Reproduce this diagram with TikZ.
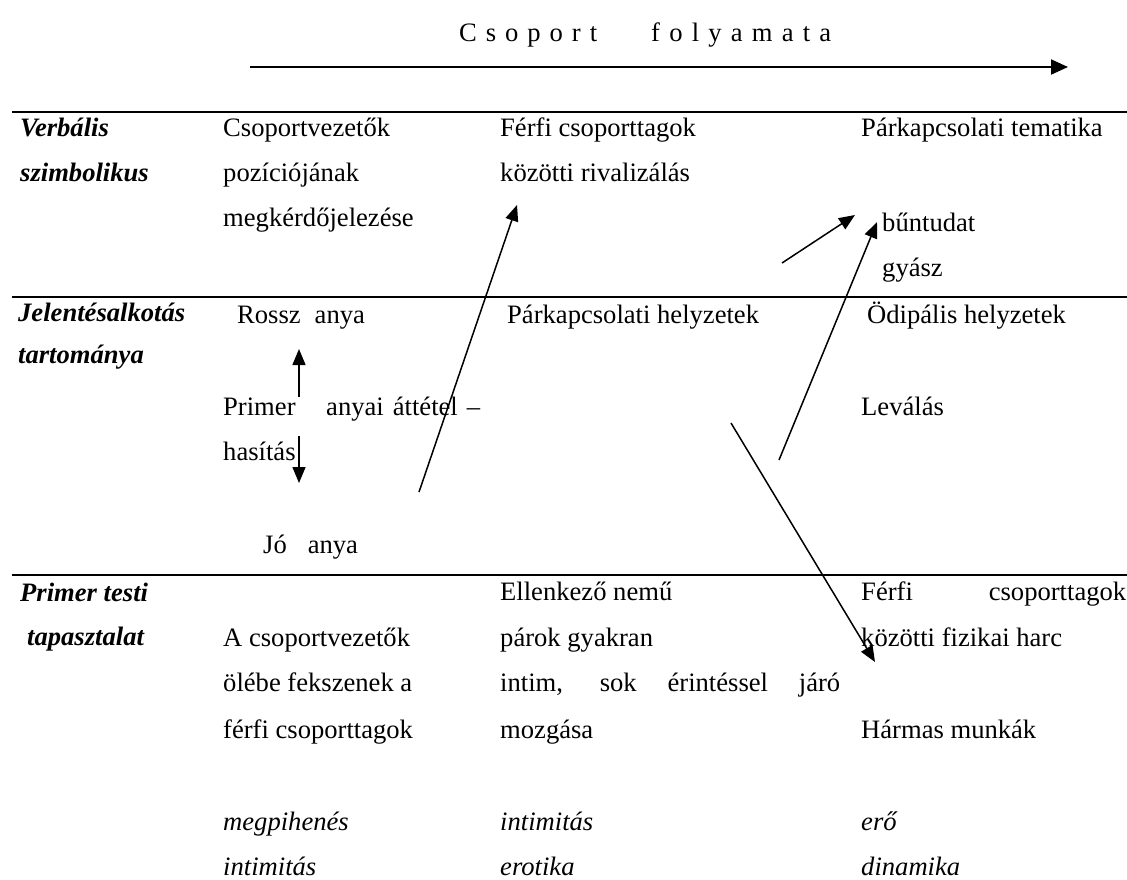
\documentclass[tikz,border=0pt]{standalone}
\usepackage{fontspec}
\setmainfont{Liberation Serif}
\newfontfamily\timesfont{Liberation Serif}
\usetikzlibrary{arrows.meta}

\tikzset{
  txt/.style={anchor=west, inner sep=0pt, text height=16pt, text depth=0pt, font=\timesfont\fontsize{26.6}{32}\selectfont},
  lbl/.style={txt, font=\timesfont\fontsize{26.6}{32}\selectfont\bfseries\itshape},
  kw/.style={txt, font=\timesfont\fontsize{26.6}{32}\selectfont\itshape},
  rule/.style={line width=2.3pt},
  link/.style={line width=1.5pt, -{Triangle[length=16pt,width=13pt]}}
}

\begin{document}
\begin{tikzpicture}[x=1pt,y=-1pt]

\useasboundingbox (0,0) rectangle (1127,879);

% Draw the title and the time arrow
\node[txt] (T1) at (459,33) {\makebox[138pt][s]{C s o p o r t}};
\node[txt] (T2) at (651,33) {\makebox[180pt][s]{f o l y a m a t a}};
\coordinate (time0) at (250,67);
\coordinate (time1) at (1068,67);
\draw[line width=2pt, -{Triangle[length=17pt,width=15pt]}] (time0) -- (time1);

% Draw the rules between the rows
\draw[rule] (12,112) -- (1127,112);
\draw[rule] (12,297) -- (1127,297);
\draw[rule] (12,575) -- (1127,575);

% Row 1
\node[lbl] (V1) at (20,128) {Verbális};
\node[lbl] (V2) at (20,173) {szimbolikus};
\node[txt] (A1) at (223,128) {Csoportvezetők};
\node[txt] (A2) at (223,173) {pozíciójának};
\node[txt] (A3) at (223,218) {megkérdőjelezése};
\node[txt] (B1) at (500,128) {Férfi csoporttagok};
\node[txt] (B2) at (500,173) {közötti rivalizálás};
\node[txt] (C1) at (861,128) {Párkapcsolati tematika};
\node[txt] (C2) at (882,223) {bűntudat};
\node[txt] (C3) at (882,268) {gyász};

% Row 2
\node[lbl] (J1) at (18,313) {Jelentésalkotás};
\node[lbl] (J2) at (18,355) {tartománya};
\node[txt] (D1) at (237,315) {Rossz\hspace{14pt}anya};
\node[txt] (D2) at (223,407) {Primer};
\node[txt] (D3) at (326,407) {\makebox[154pt][s]{anyai áttétel –}};
\node[txt] (D4) at (223,452) {hasítás};
\node[txt] (D5) at (263,545) {Jó\hspace{21pt}anya};
\node[txt] (E1) at (507,315) {Párkapcsolati helyzetek};
\node[txt] (F1) at (867,315) {Ödipális helyzetek};
\node[txt] (F2) at (861,407) {Leválás};

% Row 3
\node[lbl] (P1) at (20,593) {Primer testi};
\node[lbl] (P2) at (27,637) {tapasztalat};
\node[txt] (G1) at (223,638) {A csoportvezetők};
\node[txt] (G2) at (223,683) {ölébe fekszenek a};
\node[txt] (G3) at (223,730) {férfi csoporttagok};
\node[kw]  (G4) at (223,822) {megpihenés};
\node[kw]  (G5) at (223,867) {intimitás};
\node[txt] (H1) at (500,592) {Ellenkező nemű};
\node[txt] (H2) at (500,638) {párok gyakran};
\node[txt] (H3) at (500,683) {\makebox[340pt][s]{intim, sok érintéssel járó}};
\node[txt] (H4) at (500,730) {mozgása};
\node[kw]  (H5) at (500,822) {intimitás};
\node[kw]  (H6) at (500,867) {erotika};
\node[txt] (K1) at (861,592) {\makebox[265pt][s]{Férfi csoporttagok}};
\node[txt] (K2) at (861,638) {közötti fizikai harc};
\node[txt] (K3) at (861,730) {Hármas munkák};
\node[kw]  (K4) at (861,822) {erő};
\node[kw]  (K5) at (861,867) {dinamika};

% Draw the arrows
\coordinate (up0) at (299,397);
\coordinate (up1) at (299,349);
\coordinate (dn0) at (299,436);
\coordinate (dn1) at (299,483);
\coordinate (a0) at (419,492);
\coordinate (a1) at (517,205);
\coordinate (b0) at (782,263);
\coordinate (b1) at (855,215);
\coordinate (c0) at (779,460);
\coordinate (c1) at (877,222);
\coordinate (d0) at (731,423);
\coordinate (d1) at (875,662);

\draw[link] (up0) -- (up1);
\draw[link] (dn0) -- (dn1);
\draw[link] (a0) -- (a1);
\draw[link] (b0) -- (b1);
\draw[link] (c0) -- (c1);
\draw[link] (d0) -- (d1);

\end{tikzpicture}
\end{document}
